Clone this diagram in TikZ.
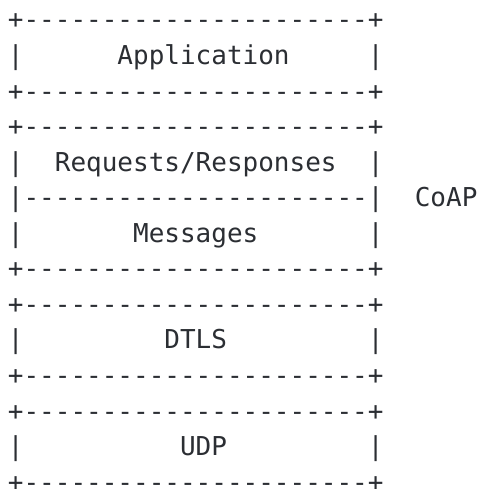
\documentclass[tikz,border=0pt]{standalone}
\usepackage{fontspec}
\setmonofont{DejaVu Sans Mono}
\definecolor{ink}{rgb}{0.17,0.18,0.2}
\begin{document}
\begin{tikzpicture}[x=1pt,y=-1pt,
  ascii/.style={anchor=base west,inner sep=0pt,outer sep=0pt,text=ink,
    font=\ttfamily\fontsize{26}{31}\selectfont}]
\useasboundingbox[fill=white] (0,0) rectangle (478,489);
\def\cx#1{7.9+15.65*#1}
\def\by#1{29.0+35.55*#1}
% Application
\node[ascii] (appT) at ({\cx{0}},{\by{0}}) {+----------------------+};
\node[ascii] (appL) at ({\cx{0}},{\by{1}}) {|};
\node[ascii] (app)  at ({\cx{7}},{\by{1}}) {Application};
\node[ascii] (appR) at ({\cx{23}},{\by{1}}) {|};
\node[ascii] (appB) at ({\cx{0}},{\by{2}}) {+----------------------+};
% CoAP
\node[ascii] (coapT) at ({\cx{0}},{\by{3}}) {+----------------------+};
\node[ascii] (reqL)  at ({\cx{0}},{\by{4}}) {|};
\node[ascii] (req)   at ({\cx{3}},{\by{4}}) {Requests/Responses};
\node[ascii] (reqR)  at ({\cx{23}},{\by{4}}) {|};
\node[ascii] (sep)   at ({\cx{0}},{\by{5}}) {|----------------------|};
\node[ascii] (coap)  at ({\cx{26}},{\by{5}}) {CoAP};
\node[ascii] (msgL)  at ({\cx{0}},{\by{6}}) {|};
\node[ascii] (msg)   at ({\cx{8}},{\by{6}}) {Messages};
\node[ascii] (msgR)  at ({\cx{23}},{\by{6}}) {|};
\node[ascii] (coapB) at ({\cx{0}},{\by{7}}) {+----------------------+};
% DTLS
\node[ascii] (dtlsT) at ({\cx{0}},{\by{8}}) {+----------------------+};
\node[ascii] (dtlsL) at ({\cx{0}},{\by{9}}) {|};
\node[ascii] (dtls)  at ({\cx{10}},{\by{9}}) {DTLS};
\node[ascii] (dtlsR) at ({\cx{23}},{\by{9}}) {|};
\node[ascii] (dtlsB) at ({\cx{0}},{\by{10}}) {+----------------------+};
% UDP
\node[ascii] (udpT) at ({\cx{0}},{\by{11}}) {+----------------------+};
\node[ascii] (udpL) at ({\cx{0}},{\by{12}}) {|};
\node[ascii] (udp)  at ({\cx{11}},{\by{12}}) {UDP};
\node[ascii] (udpR) at ({\cx{23}},{\by{12}}) {|};
\node[ascii] (udpB) at ({\cx{0}},{\by{13}}) {+----------------------+};
\end{tikzpicture}
\end{document}
